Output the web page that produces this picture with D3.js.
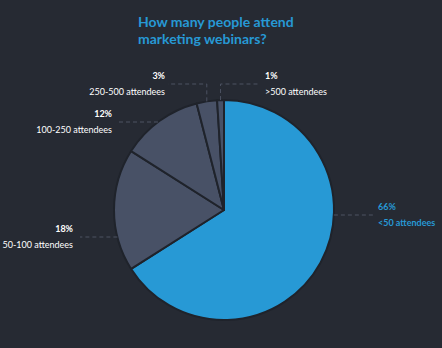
<!DOCTYPE html>
<html>
<head>
<meta charset="utf-8">
<script src="https://cdn.jsdelivr.net/npm/d3@7"></script>
<style>
  html, body { margin: 0; padding: 0; background: #262a33; }
  svg { display: block; }
  text { font-family: Lato, "Open Sans", sans-serif; }
</style>
</head>
<body>
<svg id="chart" width="442" height="348"></svg>
<script>
// Webinar attendance shares
const categories = ["<50 attendees", "50-100 attendees", "100-250 attendees", "250-500 attendees", ">500 attendees"];
const shares = [66, 18, 12, 3, 1];
const titleLines = ["How many people attend", "marketing webinars?"];

const W = 442, H = 348;
const cx = 224, cy = 210, R = 110;
const BLUE = "#2799d5", GREY = "#485166", BG = "#262a33", LEADER = "#4c5262";

const svg = d3.select("#chart");
svg.append("rect").attr("width", W).attr("height", H).attr("fill", BG);

// Title
svg.append("text")
  .attr("x", 138).attr("y", 27)
  .attr("fill", BLUE)
  .attr("font-size", 14)
  .attr("font-weight", 700)
  .selectAll("tspan").data(titleLines).join("tspan")
  .attr("x", 138).attr("dy", (d, i) => i === 0 ? 0 : 17)
  .text(d => d);

const data = categories.map((c, i) => ({ cat: c, v: shares[i] }));
const pie = d3.pie().value(d => d.v).sort(null).startAngle(0).endAngle(2 * Math.PI);
const arcs = pie(data);
const arc = d3.arc().innerRadius(0).outerRadius(R);

const g = svg.append("g").attr("transform", `translate(${cx},${cy})`);
g.selectAll("path").data(arcs).join("path")
  .attr("d", arc)
  .attr("fill", (d, i) => i === 0 ? BLUE : GREY)
  .attr("stroke", "#1f232b")
  .attr("stroke-width", 2)
  .attr("stroke-linejoin", "round");

// Point on the rim at a given angle (0 = 12 o'clock, clockwise)
const rim = a => [cx + R * Math.sin(a), cy - R * Math.cos(a)];
// Rim x for a horizontal leader at height y on the given side
const rimX = (y, side) => cx + side * Math.sqrt(R * R - (y - cy) * (y - cy));
const mid = d => (d.startAngle + d.endAngle) / 2;

// Label layout: horizontal leaders for the large slices, elbow leaders for the thin ones
const layout = [
  { type: "h", y: 215, side: 1, textX: 378, color: BLUE, boldName: true },
  { type: "h", y: 237, side: -1, textX: 73, color: "#ffffff" },
  { type: "h", y: 122, side: -1, textX: 112, color: "#ffffff" },
  { type: "e", y: 84, side: -1, textX: 165, color: "#ffffff" },
  { type: "e", y: 84, side: 1, textX: 265, color: "#ffffff" }
];

const leaders = svg.append("g")
  .attr("fill", "none")
  .attr("stroke", LEADER)
  .attr("stroke-width", 1)
  .attr("stroke-dasharray", "4,3");
const labels = svg.append("g");

arcs.forEach((d, i) => {
  const L = layout[i];
  let pts;
  if (L.type === "h") {
    const x0 = rimX(L.y, L.side);
    const x1 = L.side > 0 ? L.textX - 5 : L.textX + 7;
    pts = [[x0, L.y], [x1, L.y]];
  } else {
    const [mx, my] = rim(mid(d));
    const x1 = L.side > 0 ? L.textX - 5 : L.textX + 3;
    pts = [[mx, my], [mx, L.y], [x1, L.y]];
  }
  leaders.append("path").attr("d", d3.line()(pts));

  const anchor = L.side > 0 ? "start" : "end";
  labels.append("text")
    .attr("x", L.textX).attr("y", L.y - 5)
    .attr("text-anchor", anchor)
    .attr("fill", L.color)
    .attr("font-size", 9)
    .attr("font-weight", 700)
    .text(d.data.v + "%");
  labels.append("text")
    .attr("x", L.textX).attr("y", L.y + 11)
    .attr("text-anchor", anchor)
    .attr("fill", L.color)
    .attr("font-size", 9)
    .attr("font-weight", L.boldName ? 700 : 400)
    .text(d.data.cat);
});
</script>
</body>
</html>
